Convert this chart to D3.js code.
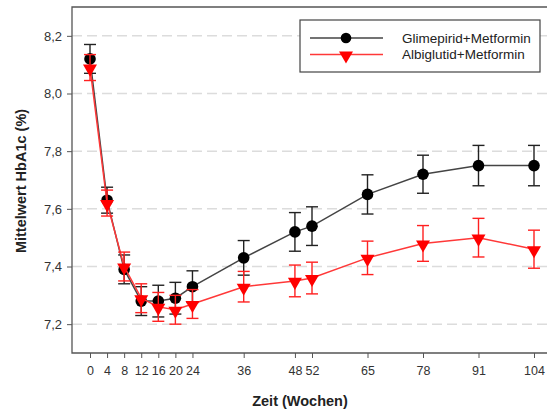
<!DOCTYPE html>
<html>
<head>
<meta charset="utf-8">
<script src="https://cdn.jsdelivr.net/npm/d3@7"></script>
<style>
  body { margin: 0; background: #fff; }
  svg text { font-family: "Liberation Sans", Arial, sans-serif; }
</style>
</head>
<body>
<svg id="chart" width="547" height="412"></svg>
<script>
var weeks = [0, 4, 8, 12, 16, 20, 24, 36, 48, 52, 65, 78, 91, 104];
var glimMean = [8.12, 7.63, 7.39, 7.28, 7.28, 7.29, 7.33, 7.43, 7.52, 7.54, 7.65, 7.72, 7.75, 7.75];
var glimErr  = [0.05, 0.045, 0.05, 0.05, 0.055, 0.055, 0.055, 0.06, 0.067, 0.067, 0.068, 0.066, 0.07, 0.07];
var albiMean = [8.09, 7.62, 7.40, 7.29, 7.26, 7.25, 7.27, 7.33, 7.35, 7.36, 7.43, 7.48, 7.50, 7.46];
var albiErr  = [0.045, 0.045, 0.05, 0.05, 0.05, 0.05, 0.05, 0.053, 0.055, 0.055, 0.058, 0.062, 0.067, 0.066];
var yTicks = [7.2, 7.4, 7.6, 7.8, 8.0, 8.2];
var seriesNames = ["Glimepirid+Metformin", "Albiglutid+Metformin"];

var svg = d3.select("#chart");

var x = d3.scaleLinear().domain([0, 104]).range([90, 534]);
var y = d3.scaleLinear().domain([7.1, 8.3]).range([353, 7]);
var left = 72, right = 560;

var fmt = function(d) { return d3.format(".1f")(d).replace(".", ","); };

// grid
svg.append("g").selectAll("line").data(yTicks).enter().append("line")
  .attr("x1", left).attr("x2", right)
  .attr("y1", function(d){ return y(d); }).attr("y2", function(d){ return y(d); })
  .style("stroke", "#dcdcdc").style("stroke-width", 1.5).style("stroke-dasharray", "10,5");

// frame
svg.append("path")
  .attr("d", "M" + right + "," + y.range()[1] + "H" + left + "V" + y.range()[0] + "H" + right)
  .style("fill", "none").style("stroke", "#555").style("stroke-width", 1.3);

// y axis
var yAxis = svg.append("g").attr("transform", "translate(" + left + ",0)")
  .call(d3.axisLeft(y).tickValues(yTicks).tickFormat(fmt).tickSize(5).tickPadding(5));
yAxis.select(".domain").remove();
yAxis.selectAll("line").style("stroke", "#555");
yAxis.selectAll("text").style("font-size", "13px").style("fill", "#333");

// x axis
var xAxis = svg.append("g").attr("transform", "translate(0," + y.range()[0] + ")")
  .call(d3.axisBottom(x).tickValues(weeks).tickSize(5).tickPadding(8));
xAxis.select(".domain").remove();
xAxis.selectAll("line").style("stroke", "#555");
xAxis.selectAll("text").style("font-size", "12.5px").style("fill", "#333");

svg.append("text")
  .attr("x", 300).attr("y", 406)
  .attr("text-anchor", "middle")
  .style("font-size", "14.5px").style("font-weight", "bold").style("fill", "#222")
  .text("Zeit (Wochen)");

svg.append("text")
  .attr("transform", "translate(26,181)rotate(-90)")
  .attr("text-anchor", "middle")
  .style("font-size", "14.5px").style("font-weight", "bold").style("fill", "#222")
  .text("Mittelwert HbA1c (%)");

var line = d3.line().x(function(d){ return x(d[0]); }).y(function(d){ return y(d[1]); });
var tri = d3.symbol().type(d3.symbolTriangle).size(85);

function drawSeries(mean, err, lineColor, barColor, marker) {
  var pts = weeks.map(function(w, i){ return [w, mean[i], err[i]]; });
  var g = svg.append("g");
  g.append("path").datum(pts).attr("d", line)
    .style("fill", "none").style("stroke", lineColor).style("stroke-width", 1.5);
  var eb = g.selectAll(".eb").data(pts).enter().append("g");
  eb.append("line")
    .attr("x1", function(d){ return x(d[0]); }).attr("x2", function(d){ return x(d[0]); })
    .attr("y1", function(d){ return y(d[1] - d[2]); }).attr("y2", function(d){ return y(d[1] + d[2]); });
  eb.append("line")
    .attr("x1", function(d){ return x(d[0]) - 6; }).attr("x2", function(d){ return x(d[0]) + 6; })
    .attr("y1", function(d){ return y(d[1] + d[2]); }).attr("y2", function(d){ return y(d[1] + d[2]); });
  eb.append("line")
    .attr("x1", function(d){ return x(d[0]) - 6; }).attr("x2", function(d){ return x(d[0]) + 6; })
    .attr("y1", function(d){ return y(d[1] - d[2]); }).attr("y2", function(d){ return y(d[1] - d[2]); });
  eb.selectAll("line").style("stroke", barColor).style("stroke-width", 1.4);
  if (marker === "circle") {
    g.selectAll(".m").data(pts).enter().append("circle")
      .attr("cx", function(d){ return x(d[0]); }).attr("cy", function(d){ return y(d[1]); })
      .attr("r", 5.8).style("fill", "#000");
  } else {
    g.selectAll(".m").data(pts).enter().append("path")
      .attr("d", tri)
      .attr("transform", function(d){ return "translate(" + x(d[0]) + "," + (y(d[1]) + 1) + ")rotate(180)"; })
      .style("fill", "#ff0000");
  }
}

drawSeries(glimMean, glimErr, "#444", "#222", "circle");
drawSeries(albiMean, albiErr, "#ff3838", "#ff2020", "triangle");

// legend
var lg = svg.append("g");
lg.append("rect").attr("x", 300).attr("y", 20).attr("width", 240).attr("height", 52)
  .style("fill", "#fff").style("stroke", "#444").style("stroke-width", 1.2);
var rows = [{name: seriesNames[0], color: "#444", m: "circle"}, {name: seriesNames[1], color: "#ff3838", m: "triangle"}];
rows.forEach(function(r, i){
  var yy = 38 + i * 16.5;
  lg.append("line").attr("x1", 310).attr("x2", 383).attr("y1", yy).attr("y2", yy)
    .style("stroke", r.color).style("stroke-width", 1.5);
  if (r.m === "circle") {
    lg.append("circle").attr("cx", 346).attr("cy", yy).attr("r", 5.3).style("fill", "#000");
  } else {
    lg.append("path").attr("d", tri).attr("transform", "translate(346," + (yy + 1) + ")rotate(180)")
      .style("fill", "#ff0000");
  }
  lg.append("text").attr("x", 402).attr("y", yy + 4.5)
    .style("font-size", "13.5px").style("fill", "#222").text(r.name);
});
</script>
</body>
</html>
